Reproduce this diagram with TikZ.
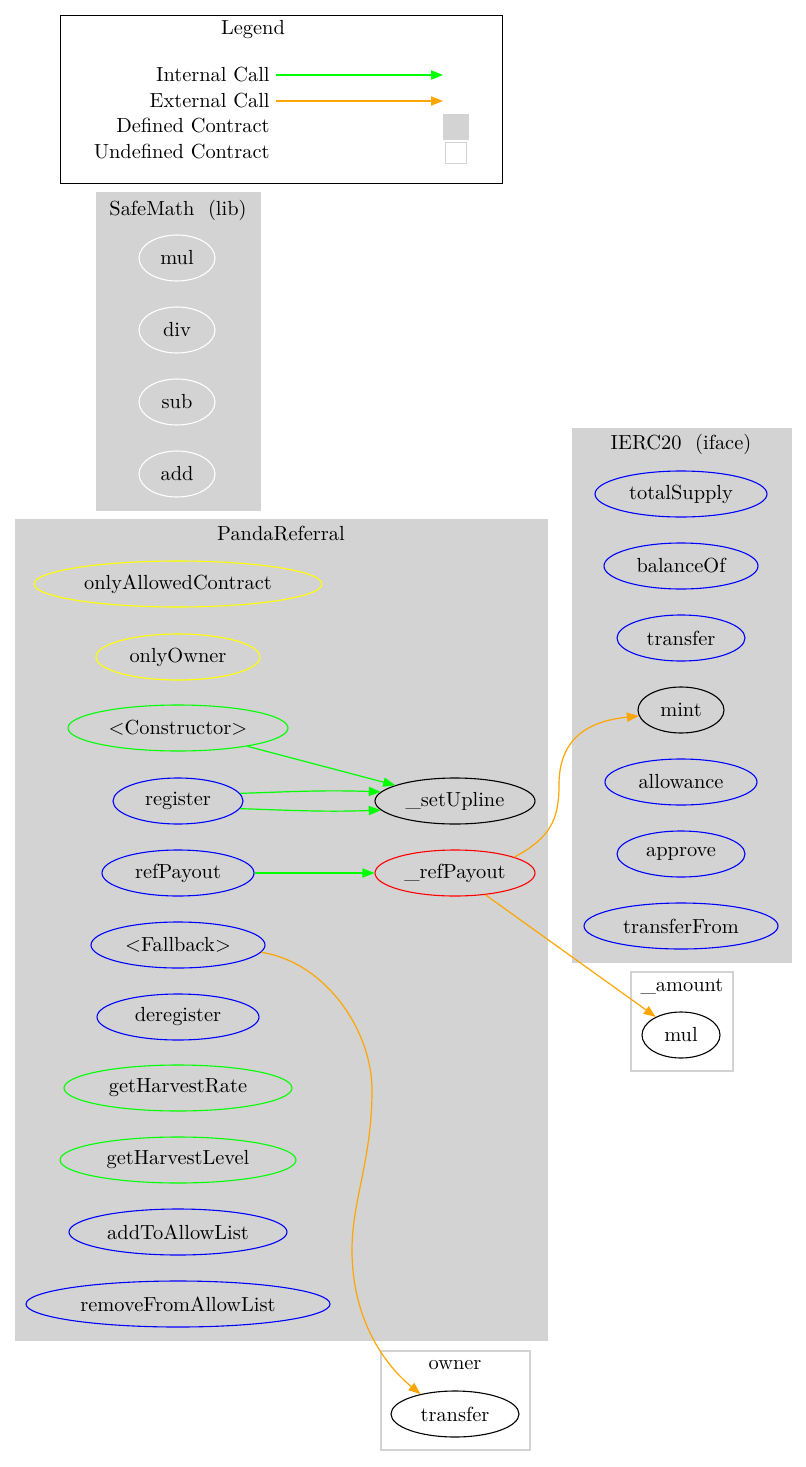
\documentclass[tikz,border=0pt]{standalone}
\usepackage{tikz}
\usetikzlibrary{shapes.geometric,arrows.meta}

\definecolor{gvgreen}{RGB}{0,255,0}
\definecolor{gvorange}{RGB}{255,165,0}
\definecolor{gvgray}{RGB}{211,211,211}
\definecolor{gvyellow}{RGB}{255,255,0}

\tikzset{
    fn/.style={ellipse, draw, line width=0.55pt, inner sep=0pt, minimum height=23pt},
    cluster/.style={fill=gvgray, draw=gvgray},
    extcluster/.style={fill=white, draw=gvgray, line width=0.6pt},
    intcall/.style={gvgreen, line width=0.6pt, -{Triangle[length=6pt,width=4.6pt]}},
    extcall/.style={gvorange, line width=0.6pt, -{Triangle[length=6pt,width=4.6pt]}}
}

\begin{document}
\begin{tikzpicture}[x=0.5pt,y=-0.5pt,font=\fontsize{10.2}{12}\selectfont]
    \useasboundingbox (0,0) rectangle (806,1467);

    %Legend
    \draw[line width=0.5pt] (60,15) rectangle (502,183);
    \node (legtitle) at (253,30) {Legend};
    \node[anchor=east, inner sep=1pt] (intlbl) at (272,75) {Internal Call};
    \node[anchor=east, inner sep=1pt] (extlbl) at (272,101) {External Call};
    \node[anchor=east, inner sep=1pt] (deflbl) at (272,126) {Defined Contract};
    \node[anchor=east, inner sep=1pt] (undeflbl) at (272,152) {Undefined Contract};
    \coordinate (intend) at (443,75);
    \coordinate (extend) at (443,101);
    \draw[intcall] (276,75) -- (intend);
    \draw[extcall] (276,101) -- (extend);
    \node[cluster, minimum size=12.5pt, inner sep=0pt] (defkey) at (456,127) {};
    \node[extcluster, minimum size=10.5pt, inner sep=0pt] (undefkey) at (456,153) {};

    %SafeMath
    \draw[cluster] (96,192) rectangle (260,510);
    \node (smtitle) at (178,210) {SafeMath\ \ (lib)};
    \node[fn, draw=white, minimum width=38pt] (smmul) at (177,258) {mul};
    \node[fn, draw=white, minimum width=38pt] (smdiv) at (177,330) {div};
    \node[fn, draw=white, minimum width=38pt] (smsub) at (177,402) {sub};
    \node[fn, draw=white, minimum width=38pt] (smadd) at (177,474) {add};

    %IERC20
    \draw[cluster] (572,428) rectangle (791,962);
    \node (ertitle) at (681,444) {IERC20\ \ (iface)};
    \node[fn, draw=blue, minimum width=86pt] (totalsupply) at (681,494) {totalSupply};
    \node[fn, draw=blue, minimum width=77pt] (balanceof) at (681,566) {balanceOf};
    \node[fn, draw=blue, minimum width=64pt] (ertransfer) at (681,638) {transfer};
    \node[fn, draw=black, minimum width=43pt] (mint) at (681,710) {mint};
    \node[fn, draw=blue, minimum width=76pt] (allowance) at (681,782) {allowance};
    \node[fn, draw=blue, minimum width=64pt] (approve) at (681,854) {approve};
    \node[fn, draw=blue, minimum width=97pt] (transferfrom) at (681,926) {transferFrom};

    %_amount
    \draw[extcluster] (631,972) rectangle (733,1071);
    \node (amtitle) at (682,987) {\_amount};
    \node[fn, draw=black, minimum width=39pt] (ammul) at (681,1035) {mul};

    %PandaReferral
    \draw[cluster] (15,519) rectangle (547,1340);
    \node (prtitle) at (281,534) {PandaReferral};
    \node[fn, draw=gvyellow, minimum width=144pt] (onlyallowed) at (178,584) {onlyAllowedContract};
    \node[fn, draw=gvyellow, minimum width=82pt] (onlyowner) at (178,657) {onlyOwner};
    \node[fn, draw=gvgreen, minimum width=110pt] (ctor) at (178,728) {<Constructor>};
    \node[fn, draw=blue, minimum width=65pt] (register) at (178,801) {register};
    \node[fn, draw=blue, minimum width=76pt] (refpayout) at (178,873) {refPayout};
    \node[fn, draw=blue, minimum width=87pt] (fallback) at (178,945) {<Fallback>};
    \node[fn, draw=blue, minimum width=81pt] (deregister) at (178,1017) {deregister};
    \node[fn, draw=gvgreen, minimum width=114pt] (harvrate) at (178,1088) {getHarvestRate};
    \node[fn, draw=gvgreen, minimum width=118pt] (harvlevel) at (178,1160) {getHarvestLevel};
    \node[fn, draw=blue, minimum width=109pt] (addallow) at (178,1232) {addToAllowList};
    \node[fn, draw=blue, minimum width=152pt] (remallow) at (178,1304) {removeFromAllowList};
    \node[fn, draw=black, minimum width=80pt] (setupline) at (455,801) {\_setUpline};
    \node[fn, draw=red, minimum width=80pt] (prefpayout) at (455,873) {\_refPayout};

    %owner
    \draw[extcluster] (381,1351) rectangle (530,1450);
    \node (owtitle) at (455,1365) {owner};
    \node[fn, draw=black, minimum width=64pt] (owtransfer) at (455,1414) {transfer};

    %calls
    \draw[intcall] (ctor) -- (setupline);
    \draw[intcall] (register.7) to[out=2,in=178] (setupline.173);
    \draw[intcall] (register.-7) to[out=-2,in=182] (setupline.187);
    \draw[intcall] (refpayout) -- (prefpayout);
    \draw[extcall] (prefpayout.15) .. controls (550,838) and (559,820) .. (559,785)
        .. controls (559,745) and (580,722) .. (mint.188);
    \draw[extcall] (prefpayout) -- (ammul);
    \draw[extcall] (fallback.-5) .. controls (325,962) and (372,1030) .. (372,1090)
        .. controls (372,1160) and (352,1200) .. (352,1250)
        .. controls (352,1320) and (385,1365) .. (owtransfer.150);
\end{tikzpicture}
\end{document}
